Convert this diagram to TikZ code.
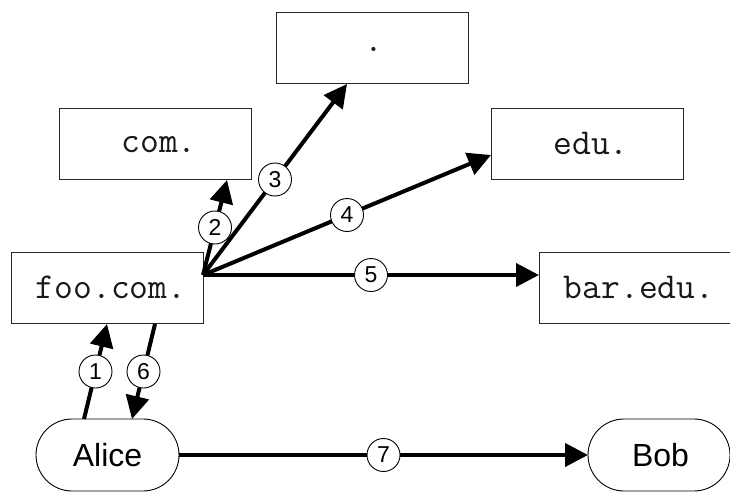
\documentclass[tikz,border=0pt]{standalone}
\usepackage{fontspec}
\setmainfont{Liberation Sans}
\usetikzlibrary{arrows.meta}
\tikzset{
  boxnode/.style={draw=black!85,line width=0.9pt,fill=white,minimum width=192pt,minimum height=71pt,inner sep=0pt,outer sep=0pt,text depth=3pt,text=black!90,font=\ttfamily\fontsize{36.5}{36.5}\selectfont},
  party/.style={draw=black,line width=0.9pt,fill=white,rounded corners=36pt,minimum height=72pt,inner sep=0pt,outer sep=0pt,font=\fontsize{32}{32}\selectfont},
  num/.style={circle,draw=black,line width=0.9pt,fill=white,minimum size=33pt,inner sep=0pt,font=\fontsize{23}{23}\selectfont},
  conn/.style={line width=4pt,-{Triangle[length=23pt,width=23pt]}}
}
\begin{document}
\begin{tikzpicture}[x=1pt,y=-1pt]
\useasboundingbox (0,0) rectangle (730,492);
\node[boxnode,text height=11pt] (root) at (372,47.5) {\hspace*{4pt}.};
\node[boxnode,text height=20pt] (com) at (155,143.5) {\hspace*{8pt}com.};
\node[boxnode,text height=25pt] (edu) at (587,143.5) {\hspace*{8pt}edu.};
\node[boxnode,text height=24pt] (foo) at (107,287.5) {\hspace*{8pt}foo.com.};
\node[boxnode,text height=24pt] (bar) at (635,287.5) {\hspace*{8pt}bar.edu.};
\node[party,minimum width=143pt] (alice) at (107.5,455) {Alice};
\node[party,minimum width=142pt] (bob) at (659,455) {\hspace*{3pt}Bob};
\coordinate (hub) at (foo.east |- 0,275);
\coordinate (comin) at (227,180);
\coordinate (rootin) at (347,84);
\coordinate (eduin) at (491,155);
\coordinate (barin) at (bar.west |- 0,275);
\coordinate (aout) at (84,419);
\coordinate (fooin) at (107,324);
\coordinate (fooout) at (155,324);
\coordinate (ain) at (132,419);
\draw[conn] (hub) -- node[num] (n2) {2} (comin);
\draw[conn] (hub) -- node[num] (n3) {3} (rootin);
\draw[conn] (hub) -- node[num] (n4) {4} (eduin);
\draw[conn] (hub) -- node[num] (n5) {5} (barin);
\draw[conn] (aout) -- node[num] (n1) {1} (fooin);
\draw[conn] (fooout) -- node[num] (n6) {6} (ain);
\draw[conn] (alice.east) -- node[num] (n7) {7} (bob.west);
\end{tikzpicture}
\end{document}
